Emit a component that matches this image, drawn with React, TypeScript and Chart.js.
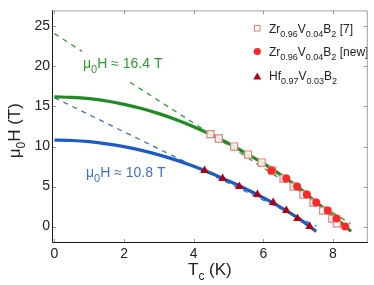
import React, { useEffect, useRef } from "react";
import { Chart, registerables } from "chart.js";

Chart.register(...registerables);

// ---- Data ----
const xTicks = [0, 2, 4, 6, 8];
const yTicks = [0, 5, 10, 15, 20, 25];

// open squares: Zr0.96V0.04B2 [7]
const sqT = [4.48, 4.72, 5.16, 5.56, 5.95, 6.25, 6.58, 6.87, 7.15, 7.44, 7.72, 7.98, 8.11];
const sqH = [11.55, 11.0, 10.0, 9.0, 8.0, 7.0, 6.0, 5.0, 4.0, 3.0, 2.0, 1.0, 0.4];

// filled circles: Zr0.96V0.04B2 [new]
const ciT = [6.23, 6.66, 6.97, 7.25, 7.52, 7.85, 8.1, 8.35];
const ciH = [7, 6, 5, 4, 3, 2, 1, 0];

// triangles: Hf0.97V0.03B2
const trT = [4.31, 4.83, 5.31, 5.83, 6.28, 6.66, 6.98, 7.33];
const trH = [7, 6, 5, 4, 3, 2, 1, 0];

// solid fit curves
const gFitT = [0, 0.5, 1, 1.5, 2, 2.5, 3, 3.5, 4, 4.5, 5, 5.5, 6, 6.5, 7, 7.5, 8, 8.52];
const gFitH = [16.2, 16.14, 15.97, 15.68, 15.27, 14.75, 14.11, 13.35, 12.48, 11.49, 10.4, 9.15, 7.9, 6.45, 4.9, 3.1, 1.35, -0.6];
const bFitT = [0, 0.5, 1, 1.5, 2, 2.5, 3, 3.5, 4, 4.5, 5, 5.5, 6, 6.5, 7, 7.52];
const bFitH = [10.8, 10.75, 10.6, 10.34, 9.98, 9.52, 8.96, 8.3, 7.53, 6.66, 5.7, 4.7, 3.6, 2.4, 1.05, -0.6];

// dashed linear extrapolations
const gDashT = [0, 8.5];
const gDashH = [24.1, 0.35];
const bDashT = [0, 7.52];
const bDashH = [16.1, 0.05];

const FONT = "'Liberation Sans', Arial, Helvetica, sans-serif";
const GREEN = "#1f8c1f";
const GREEN_T = "#2f9a2f";
const BLUE = "#1c5cc8";
const BLUE_T = "#3a70d0";
const SQ = "#f07a7a";
const CI = "#ff2626";
const TR = "#b3000f";

const pts = (xs: number[], ys: number[]) => xs.map((x, i) => ({ x, y: ys[i] }));

type Part = { t: string; sub?: boolean };

function richWidth(ctx: CanvasRenderingContext2D, parts: Part[], size: number, subSize: number) {
  let w = 0;
  for (const p of parts) {
    ctx.font = `${p.sub ? subSize : size}px ${FONT}`;
    w += ctx.measureText(p.t).width;
  }
  return w;
}

function drawRich(
  ctx: CanvasRenderingContext2D,
  parts: Part[],
  x: number,
  y: number,
  size: number,
  subSize: number,
  subDy: number,
  color: string
) {
  ctx.fillStyle = color;
  ctx.textBaseline = "alphabetic";
  ctx.textAlign = "left";
  let cx = x;
  for (const p of parts) {
    ctx.font = `${p.sub ? subSize : size}px ${FONT}`;
    ctx.fillText(p.t, cx, p.sub ? y + subDy : y);
    cx += ctx.measureText(p.t).width;
  }
}

const decor = {
  id: "decor",
  afterDatasetsDraw(chart: any) {
    const ctx: CanvasRenderingContext2D = chart.ctx;
    const { left, right, top, bottom } = chart.chartArea;
    const xs = chart.scales.x;
    const ys = chart.scales.y;
    ctx.save();

    // labels with white background
    ctx.fillStyle = "#ffffff";
    ctx.fillRect(82, 49, 84, 31);
    drawRich(ctx, [{ t: "μ" }, { t: "0", sub: true }, { t: "H ≈ 16.4 T" }], 83, 68, 14, 11, 5, GREEN_T);
    drawRich(ctx, [{ t: "μ" }, { t: "0", sub: true }, { t: "H ≈ 10.8 T" }], 86, 177, 14, 11, 5, BLUE_T);

    // legend
    const lx = 257;
    ctx.strokeStyle = SQ;
    ctx.lineWidth = 1;
    ctx.fillStyle = "#fff";
    ctx.fillRect(lx - 3, 25.5, 6, 6);
    ctx.strokeRect(lx - 2.5, 25.5, 5.5, 5.5);
    ctx.fillStyle = CI;
    ctx.beginPath();
    ctx.arc(lx + 0.3, 51.5, 3.6, 0, Math.PI * 2);
    ctx.fill();
    ctx.fillStyle = TR;
    ctx.beginPath();
    ctx.moveTo(lx + 0.3, 72.5);
    ctx.lineTo(lx + 4.3, 79.5);
    ctx.lineTo(lx - 3.7, 79.5);
    ctx.closePath();
    ctx.fill();
    const tx = 269;
    drawRich(ctx, [{ t: "Zr" }, { t: "0.96", sub: true }, { t: "V" }, { t: "0.04", sub: true }, { t: "B" }, { t: "2", sub: true }, { t: " [7]" }], tx, 33, 12, 9, 4, "#222");
    drawRich(ctx, [{ t: "Zr" }, { t: "0.96", sub: true }, { t: "V" }, { t: "0.04", sub: true }, { t: "B" }, { t: "2", sub: true }, { t: " [new]" }], tx, 56, 12, 9, 4, "#222");
    drawRich(ctx, [{ t: "Hf" }, { t: "0.97", sub: true }, { t: "V" }, { t: "0.03", sub: true }, { t: "B" }, { t: "2", sub: true }], tx, 80, 12, 9, 4, "#222");

    // inward tick marks
    ctx.strokeStyle = "#9a9a9a";
    ctx.lineWidth = 1;
    ctx.beginPath();
    for (const v of xTicks) {
      const px = Math.round(xs.getPixelForValue(v)) + 0.5;
      ctx.moveTo(px, bottom);
      ctx.lineTo(px, bottom - 4);
      ctx.moveTo(px, top);
      ctx.lineTo(px, top + 4);
    }
    for (const v of yTicks) {
      const py = Math.round(ys.getPixelForValue(v)) + 0.5;
      ctx.moveTo(left, py);
      ctx.lineTo(left + 4, py);
      ctx.moveTo(right, py);
      ctx.lineTo(right - 4, py);
    }
    ctx.stroke();

    // frame
    ctx.strokeStyle = "#a0a0a0";
    ctx.beginPath();
    ctx.moveTo(left, top + 0.5);
    ctx.lineTo(right - 0.5, top + 0.5);
    ctx.lineTo(right - 0.5, bottom);
    ctx.stroke();
    ctx.strokeStyle = "#1a1a1a";
    ctx.beginPath();
    ctx.moveTo(left + 0.5, top);
    ctx.lineTo(left + 0.5, bottom - 0.5);
    ctx.lineTo(right, bottom - 0.5);
    ctx.stroke();

    // axis titles
    const xt: Part[] = [{ t: "T" }, { t: "c", sub: true }, { t: " (K)" }];
    const xw = richWidth(ctx, xt, 17, 12);
    drawRich(ctx, xt, (left + right) / 2 - xw / 2, 275, 17, 12, 5, "#222");

    const yt: Part[] = [{ t: "μ" }, { t: "0", sub: true }, { t: "H (T)" }];
    const yw = richWidth(ctx, yt, 17, 12);
    ctx.translate(20, (top + bottom) / 2 + 4);
    ctx.rotate(-Math.PI / 2);
    drawRich(ctx, yt, -yw / 2, 0, 17, 12, 5, "#222");

    ctx.restore();
  },
};

export default function App() {
  const ref = useRef<HTMLCanvasElement | null>(null);
  useEffect(() => {
    if (!ref.current) return;
    const chart = new Chart(ref.current, {
      type: "scatter",
      data: {
        datasets: [
          {
            label: "sq",
            data: pts(sqT, sqH),
            pointStyle: "rect",
            pointRadius: 5,
            borderColor: SQ,
            backgroundColor: "rgba(255,255,255,0.85)",
            borderWidth: 1.2,
            order: 2,
          },
          {
            label: "ci",
            data: pts(ciT, ciH),
            pointStyle: "circle",
            pointRadius: 4,
            borderColor: CI,
            backgroundColor: CI,
            borderWidth: 0,
            order: 1,
          },
          {
            label: "tr",
            data: pts(trT, trH),
            pointStyle: "triangle",
            pointRadius: 5,
            borderColor: TR,
            backgroundColor: TR,
            borderWidth: 0,
            order: 1,
          },
          {
            label: "gfit",
            data: pts(gFitT, gFitH),
            showLine: true,
            pointRadius: 0,
            borderColor: GREEN,
            borderWidth: 3.2,
            cubicInterpolationMode: "monotone",
            order: 5,
          },
          {
            label: "bfit",
            data: pts(bFitT, bFitH),
            showLine: true,
            pointRadius: 0,
            borderColor: BLUE,
            borderWidth: 3.2,
            cubicInterpolationMode: "monotone",
            order: 5,
          },
          {
            label: "gdash",
            data: pts(gDashT, gDashH),
            showLine: true,
            pointRadius: 0,
            borderColor: GREEN_T,
            borderWidth: 1.3,
            borderDash: [5, 5],
            order: 6,
          },
          {
            label: "bdash",
            data: pts(bDashT, bDashH),
            showLine: true,
            pointRadius: 0,
            borderColor: BLUE_T,
            borderWidth: 1.3,
            borderDash: [5, 5],
            order: 6,
          },
        ],
      },
      options: {
        responsive: false,
        animation: false,
        devicePixelRatio: 1,
        layout: { padding: { top: 3, right: 3, left: 0, bottom: 0 } },
        plugins: { legend: { display: false }, tooltip: { enabled: false } },
        scales: {
          x: {
            type: "linear",
            min: -0.07,
            max: 9,
            grid: { display: false, drawTicks: false },
            border: { display: false },
            ticks: { font: { size: 14, family: FONT }, color: "#222", padding: 3 },
            afterBuildTicks: (s: any) => {
              s.ticks = xTicks.map((v) => ({ value: v }));
            },
            afterFit: (s: any) => {
              s.height = 42;
            },
          },
          y: {
            type: "linear",
            min: -2.05,
            max: 27,
            grid: { display: false, drawTicks: false },
            border: { display: false },
            ticks: { font: { size: 14, family: FONT }, color: "#222", padding: 2 },
            afterBuildTicks: (s: any) => {
              s.ticks = yTicks.map((v) => ({ value: v }));
            },
            afterFit: (s: any) => {
              s.width = 52;
            },
          },
        },
      },
      plugins: [decor],
    } as any);
    return () => chart.destroy();
  }, []);
  return (
    <div style={{ position: "fixed", left: 0, top: 0, width: 374, height: 285, background: "#fff" }}>
      <canvas ref={ref} width={374} height={285} style={{ display: "block" }} />
    </div>
  );
}
